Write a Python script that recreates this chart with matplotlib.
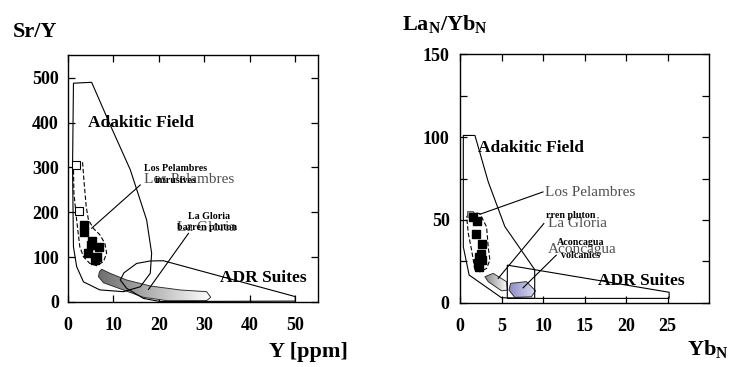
import numpy as np
import matplotlib
matplotlib.use("Agg")
import matplotlib.pyplot as plt
from matplotlib.patches import Polygon
from matplotlib.colors import LinearSegmentedColormap

plt.rcParams['font.family'] = ['Liberation Serif', 'DejaVu Serif']
plt.rcParams['mathtext.fontset'] = 'custom'
plt.rcParams['mathtext.rm'] = 'Liberation Serif:bold'
plt.rcParams['mathtext.bf'] = 'Liberation Serif:bold'

# ---------------- Left panel: Sr/Y vs Y ----------------
adak_L_x = [1.2, 5.2, 9.5, 13.7, 17.3, 18.4, 18.1, 15.9, 12.2, 7.0, 3.4, 1.9, 1.2, 1.0]
adak_L_y = [488, 490, 390, 295, 183, 109, 64, 34, 23, 27, 45, 79, 123, 300]

adr_L_x = [11.5, 12.3, 15.1, 18.1, 21.0, 50.0, 50.0, 20.3, 16.6, 12.9, 11.5]
adr_L_y = [49, 65, 86, 91.5, 92, 12, 2, 1, 8, 30.5, 49]

glo_L_x = [7.4, 9.25, 12.9, 18.1, 24.7, 30.5, 31.4, 30.5, 21.7, 16.6, 12.2, 7.8, 6.7, 6.9]
glo_L_y = [73, 64, 49, 35.7, 26.8, 23, 10.5, 3, 3, 10.5, 26.8, 43, 56.5, 67]

lp_L_x = [1.76, 3.2, 3.5, 4.0, 4.5, 5.6, 7.0, 8.1, 8.5, 7.8, 6.3, 4.8, 3.4, 2.6, 1.9, 1.3, 1.2]
lp_L_y = [313, 312, 272, 213, 183, 164, 150, 131, 109, 90, 81, 86, 101, 123, 183, 243, 302]

open_L_x = [1.8, 2.5]
open_L_y = [306, 202]

fill_L_x = [3.5, 3.5, 5.3, 5.0, 6.8, 4.5, 6.3, 5.9]
fill_L_y = [172, 157, 136, 127, 122, 109, 101, 94]

# ---------------- Right panel: LaN/YbN vs YbN ----------------
adak_R_x = [0.4, 1.8, 3.4, 5.4, 9.0, 9.0, 5.0, 1.1, 0.4]
adak_R_y = [101, 101, 73, 46, 20, 2.6, 3.0, 16.7, 33.7]

adr_R_x = [5.7, 25.2, 25.2, 5.7]
adr_R_y = [22.7, 6.3, 2.6, 2.6]

lp_R_x = [1.2, 2.4, 3.2, 3.4, 3.6, 3.2, 2.4, 1.8, 1.4, 1.0, 0.8]
lp_R_y = [54.8, 53.8, 45.8, 33.7, 25.7, 20.7, 18.7, 19.7, 31.7, 41.8, 51.8]

fill_R_x = [1.6, 2.1, 1.9, 2.7, 2.3, 2.2, 2.6, 2.3, 2.5]
fill_R_y = [52.0, 49.5, 41.5, 35.5, 27.7, 24.0, 25.7, 21.7, 29.7]

open_R_x = [1.2]
open_R_y = [53.8]

glo_R_x = [3.0, 4.0, 5.6, 5.7, 5.0, 3.4]
glo_R_y = [15.7, 17.7, 12.7, 7.6, 7.2, 12.7]

acon_R_x = [6.1, 8.0, 9.1, 8.6, 6.6, 5.9]
acon_R_y = [11.7, 12.7, 7.2, 3.6, 3.2, 7.6]

left_xticks = [0, 10, 20, 30, 40, 50]
left_yticks = [0, 100, 200, 300, 400, 500]
right_xticks = [0, 5, 10, 15, 20, 25]
right_yticks = [0, 50, 100, 150]
right_yminor = [25, 75, 125]

W, H = 741, 367
fig = plt.figure(figsize=(W / 100, H / 100), dpi=100)
axL = fig.add_axes([68 / W, 1 - 302 / H, 250 / W, (302 - 54.5) / H])
axR = fig.add_axes([460 / W, 1 - 302.7 / H, 249 / W, (302.7 - 54.3) / H])

bold = dict(family='Liberation Serif', weight='bold')


def outline(ax, xs, ys, ls='-', lw=0.8, z=3):
    p = Polygon(np.column_stack([xs, ys]), closed=True, facecolor='none',
                edgecolor='black', linewidth=lw, linestyle=ls, zorder=z)
    ax.add_patch(p)
    return p


def gradfill(ax, xs, ys, c1, c2, ec='#333333', z=2):
    p = Polygon(np.column_stack([xs, ys]), closed=True, facecolor='none',
                edgecolor=ec, linewidth=0.7, zorder=z + 0.1)
    ax.add_patch(p)
    grad = np.linspace(0, 1, 256).reshape(1, -1)
    cmap = LinearSegmentedColormap.from_list('g', [c1, c2])
    im = ax.imshow(grad, extent=[min(xs), max(xs), min(ys), max(ys)],
                   aspect='auto', cmap=cmap, zorder=z, origin='lower')
    im.set_clip_path(p)


def style(ax, xlim, ylim, xt, yt, ypad):
    ax.set_xlim(*xlim)
    ax.set_ylim(*ylim)
    ax.set_xticks(xt)
    ax.set_yticks(yt)
    ax.tick_params(direction='in', top=True, right=True, length=5, width=0.9,
                   labelsize=13)
    ax.tick_params(axis='x', pad=11)
    ax.tick_params(axis='y', pad=ypad)
    for lab in ax.get_xticklabels() + ax.get_yticklabels():
        lab.set_fontweight('bold')
        lab.set_family('Liberation Serif')
    for s in ax.spines.values():
        s.set_linewidth(1.0)


# Left panel drawing
gradfill(axL, glo_L_x, glo_L_y, '#6e6e6e', '#ffffff')
outline(axL, adak_L_x, adak_L_y)
outline(axL, adr_L_x, adr_L_y)
outline(axL, lp_L_x, lp_L_y, ls=(0, (4, 2)))
axL.plot(open_L_x, open_L_y, 's', ms=6, mfc='white', mec='black', mew=0.8, zorder=5)
axL.plot(fill_L_x, fill_L_y, 's', ms=6, mfc='black', mec='black', zorder=5)
axL.plot([15.9, 5.2], [261, 164.5], color='black', lw=0.8, zorder=4)
axL.plot([26.5, 17.7], [153, 28], color='black', lw=0.8, zorder=4)
axL.text(4.4, 400, 'Adakitic Field', fontsize=12.5, va='center', ha='left', zorder=6, **bold)
axL.text(33.5, 54, 'ADR Suites', fontsize=12.5, va='center', ha='left', zorder=6, **bold)
axL.text(16.7, 274, 'Los Pelambres', fontsize=11, color='#505050', va='center', ha='left', zorder=6)
axL.text(16.7, 298, 'Los Pelambres', fontsize=7.2, va='center', ha='left', zorder=7, **bold)
axL.text(19.0, 270, 'intrusives', fontsize=7.2, va='center', ha='left', zorder=7, **bold)
axL.text(24.0, 166, 'La Gloria', fontsize=11, color='#505050', va='center', ha='left', zorder=6)
axL.text(26.4, 191, 'La Gloria', fontsize=7.2, va='center', ha='left', zorder=7, **bold)
axL.text(24.0, 166, 'barren pluton', fontsize=7.2, va='center', ha='left', zorder=7, **bold)
style(axL, (0, 55), (0, 552), left_xticks, left_yticks, 6.5)

# Right panel drawing
gradfill(axR, glo_R_x, glo_R_y, '#8a8a8a', '#ffffff')
gradfill(axR, acon_R_x, acon_R_y, '#8c8cc4', '#dcdcf2')
outline(axR, adak_R_x, adak_R_y)
outline(axR, adr_R_x, adr_R_y)
outline(axR, lp_R_x, lp_R_y, ls=(0, (4, 2)))
axR.plot(open_R_x, open_R_y, 's', ms=5, mfc='#999999', mec='#555555', mew=0.6, zorder=5)
axR.plot(fill_R_x, fill_R_y, 's', ms=6, mfc='black', mec='black', zorder=5)
axR.plot([10.0, 2.4], [66.9, 53.4], color='black', lw=0.8, zorder=4)
axR.plot([10.1, 4.6], [47.8, 14.7], color='black', lw=0.8, zorder=4)
axR.plot([11.6, 7.6], [28.7, 9.0], color='black', lw=0.8, zorder=4)
axR.text(2.2, 93.6, 'Adakitic Field', fontsize=12.5, va='center', ha='left', zorder=6, **bold)
axR.text(16.6, 13.3, 'ADR Suites', fontsize=12.5, va='center', ha='left', zorder=6, **bold)
axR.text(10.2, 66.3, 'Los Pelambres', fontsize=11, color='#505050', va='center', ha='left', zorder=6)
axR.text(10.6, 47.8, 'La Gloria', fontsize=11, color='#505050', va='center', ha='left', zorder=6)
axR.text(10.4, 52.8, 'rren pluton', fontsize=7.2, va='center', ha='left', zorder=7, **bold)
axR.text(10.6, 32.2, 'Aconcagua', fontsize=11, color='#505050', va='center', ha='left', zorder=6)
axR.text(11.7, 36.1, 'Aconcagua', fontsize=7.2, va='center', ha='left', zorder=7, **bold)
axR.text(12.2, 28.7, 'volcanics', fontsize=7.2, va='center', ha='left', zorder=7, **bold)
style(axR, (0, 30), (0, 150), right_xticks, right_yticks, 7.5)
axR.set_yticks(right_yminor, minor=True)
axR.tick_params(which='minor', direction='in', right=True, length=5, width=0.9)

# Axis titles
fig.text(13 / W, 1 - 32 / H, 'Sr/Y', fontsize=16, ha='left', va='center', **bold)
fig.text(348 / W, 1 - 352 / H, 'Y [ppm]', fontsize=16, ha='right', va='center', **bold)
fig.text(402 / W, 1 - 25 / H, r'La$_{\mathrm{N}}$/Yb$_{\mathrm{N}}$', fontsize=16,
         ha='left', va='center', **bold)
fig.text(729 / W, 1 - 350 / H, r'Yb$_{\mathrm{N}}$', fontsize=16, ha='right', va='center', **bold)

fig.savefig('out.png', dpi=100, facecolor='white')
